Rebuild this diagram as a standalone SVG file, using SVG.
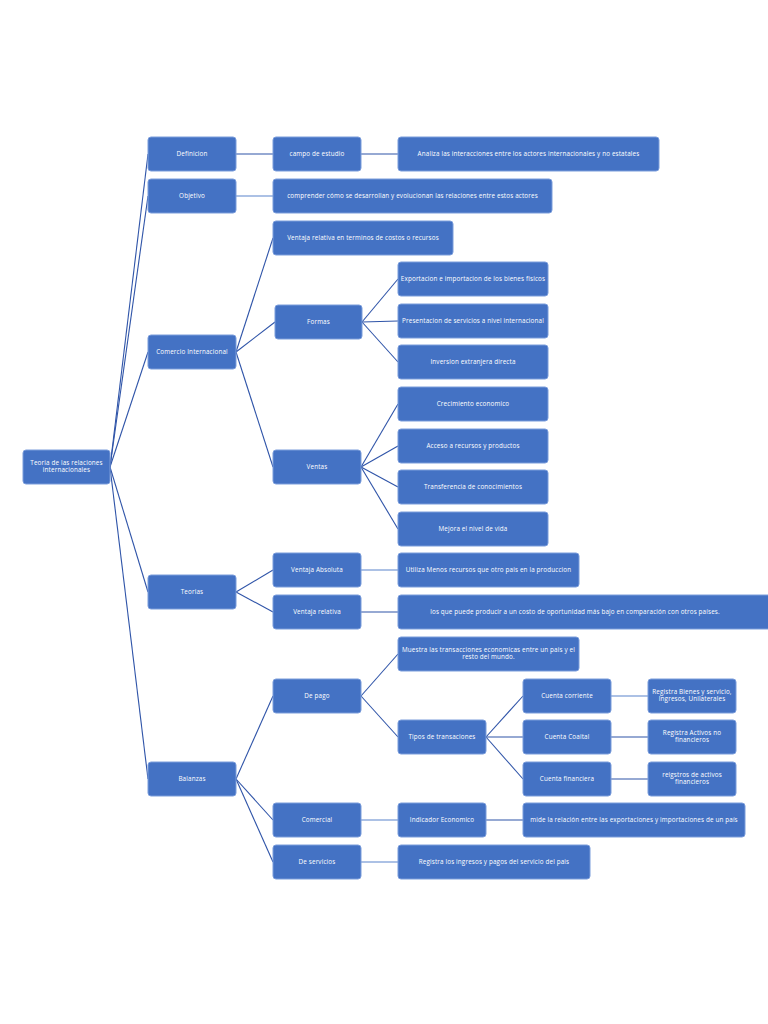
<svg xmlns="http://www.w3.org/2000/svg" width="768" height="1024" viewBox="0 0 768 1024">
<style>
.n rect{fill:#4472C4;stroke:#7B9DDB;stroke-width:1}
.n text{fill:#fff;font-family:"Open Sans","Liberation Sans",sans-serif;font-size:6.3px;letter-spacing:0.15px;text-anchor:middle;dominant-baseline:middle}
#c line{stroke:#2F54A8;stroke-width:1.1}
</style>
<rect width="768" height="1024" fill="#fff"/>
<g id="c">
<line x1="110" y1="467" x2="148" y2="154"/>
<line x1="110" y1="467" x2="148" y2="196"/>
<line x1="110" y1="467" x2="148" y2="352"/>
<line x1="110" y1="467" x2="148" y2="592"/>
<line x1="110" y1="467" x2="148" y2="779"/>
<line x1="236" y1="154" x2="273" y2="154"/>
<line x1="361" y1="154" x2="398" y2="154"/>
<line x1="236" y1="196" x2="273" y2="196" style="stroke:#5B84CC"/>
<line x1="236" y1="352" x2="273" y2="238"/>
<line x1="236" y1="352" x2="275" y2="322"/>
<line x1="236" y1="352" x2="273" y2="467"/>
<line x1="362" y1="322" x2="398" y2="279"/>
<line x1="362" y1="322" x2="398" y2="321"/>
<line x1="362" y1="322" x2="398" y2="362"/>
<line x1="361" y1="467" x2="398" y2="404"/>
<line x1="361" y1="467" x2="398" y2="446"/>
<line x1="361" y1="467" x2="398" y2="487"/>
<line x1="361" y1="467" x2="398" y2="529"/>
<line x1="236" y1="592" x2="273" y2="570"/>
<line x1="236" y1="592" x2="273" y2="612"/>
<line x1="361" y1="570" x2="398" y2="570" style="stroke:#5B84CC"/>
<line x1="361" y1="612" x2="398" y2="612"/>
<line x1="236" y1="779" x2="273" y2="696"/>
<line x1="236" y1="779" x2="273" y2="820"/>
<line x1="236" y1="779" x2="273" y2="862"/>
<line x1="361" y1="696" x2="398" y2="654"/>
<line x1="361" y1="696" x2="398" y2="737"/>
<line x1="486" y1="737" x2="523" y2="696"/>
<line x1="486" y1="737" x2="523" y2="737"/>
<line x1="486" y1="737" x2="523" y2="779"/>
<line x1="611" y1="696" x2="648" y2="696" style="stroke:#5B84CC"/>
<line x1="611" y1="737" x2="648" y2="737"/>
<line x1="611" y1="779" x2="648" y2="779"/>
<line x1="361" y1="820" x2="398" y2="820" style="stroke:#5B84CC"/>
<line x1="486" y1="820" x2="523" y2="820"/>
<line x1="361" y1="862" x2="398" y2="862" style="stroke:#5B84CC"/>
</g>
<g id="root" class="n"><rect x="23" y="450" width="87" height="34" rx="3"/><text x="66.5" y="463.5">Teoria de las relaciones</text><text x="66.5" y="470.5">internacionales</text></g>
<g id="definicion" class="n"><rect x="148" y="137" width="88" height="34" rx="3"/><text x="192" y="154">Definicion</text></g>
<g id="objetivo" class="n"><rect x="148" y="179" width="88" height="34" rx="3"/><text x="192" y="196">Objetivo</text></g>
<g id="comercio" class="n"><rect x="148" y="335" width="88" height="34" rx="3"/><text x="192" y="352">Comercio Internacional</text></g>
<g id="teorias" class="n"><rect x="148" y="575" width="88" height="34" rx="3"/><text x="192" y="592">Teorias</text></g>
<g id="balanzas" class="n"><rect x="148" y="762" width="88" height="34" rx="3"/><text x="192" y="779">Balanzas</text></g>
<g id="campo" class="n"><rect x="273" y="137" width="88" height="34" rx="3"/><text x="317" y="154">campo de estudio</text></g>
<g id="analiza" class="n"><rect x="398" y="137" width="261" height="34" rx="3"/><text x="528.5" y="154">Analiza las interacciones entre los actores internacionales y no estatales</text></g>
<g id="comprender" class="n"><rect x="273" y="179" width="279" height="34" rx="3"/><text x="412.5" y="196">comprender cómo se desarrollan y evolucionan las relaciones entre estos actores</text></g>
<g id="ventaja-terminos" class="n"><rect x="273" y="221" width="180" height="34" rx="3"/><text x="363" y="238">Ventaja relativa en terminos de costos o recursos</text></g>
<g id="formas" class="n"><rect x="275" y="305" width="87" height="34" rx="3"/><text x="318.5" y="322">Formas</text></g>
<g id="exportacion" class="n"><rect x="398" y="262" width="150" height="34" rx="3"/><text x="473" y="279">Exportacion e importacion de los bienes fisicos</text></g>
<g id="presentacion" class="n"><rect x="398" y="304" width="150" height="34" rx="3"/><text x="473" y="321">Presentacion de servicios a nivel internacional</text></g>
<g id="inversion" class="n"><rect x="398" y="345" width="150" height="34" rx="3"/><text x="473" y="362">Inversion extranjera directa</text></g>
<g id="ventas" class="n"><rect x="273" y="450" width="88" height="34" rx="3"/><text x="317" y="467">Ventas</text></g>
<g id="crecimiento" class="n"><rect x="398" y="387" width="150" height="34" rx="3"/><text x="473" y="404">Crecimiento economico</text></g>
<g id="acceso" class="n"><rect x="398" y="429" width="150" height="34" rx="3"/><text x="473" y="446">Acceso a recursos y productos</text></g>
<g id="transferencia" class="n"><rect x="398" y="470" width="150" height="34" rx="3"/><text x="473" y="487">Transferencia de conocimientos</text></g>
<g id="mejora" class="n"><rect x="398" y="512" width="150" height="34" rx="3"/><text x="473" y="529">Mejora el nivel de vida</text></g>
<g id="ventaja-absoluta" class="n"><rect x="273" y="553" width="88" height="34" rx="3"/><text x="317" y="570">Ventaja Absoluta</text></g>
<g id="ventaja-relativa" class="n"><rect x="273" y="595" width="88" height="34" rx="3"/><text x="317" y="612">Ventaja relativa</text></g>
<g id="utiliza" class="n"><rect x="398" y="553" width="181" height="34" rx="3"/><text x="488.5" y="570">Utiliza Menos recursos que otro pais en la produccion</text></g>
<g id="los-que" class="n"><rect x="398" y="595" width="380" height="34" rx="3"/><text x="575" y="612">los que puede producir a un costo de oportunidad más bajo en comparación con otros países.</text></g>
<g id="de-pago" class="n"><rect x="273" y="679" width="88" height="34" rx="3"/><text x="317" y="696">De pago</text></g>
<g id="muestra" class="n"><rect x="398" y="637" width="181" height="34" rx="3"/><text x="488.5" y="650">Muestra las transacciones economicas entre un pais y el</text><text x="488.5" y="657">resto del mundo.</text></g>
<g id="tipos" class="n"><rect x="398" y="720" width="88" height="34" rx="3"/><text x="442" y="737">Tipos de transaciones</text></g>
<g id="cuenta-corriente" class="n"><rect x="523" y="679" width="88" height="34" rx="3"/><text x="567" y="696">Cuenta corriente</text></g>
<g id="cuenta-coaital" class="n"><rect x="523" y="720" width="88" height="34" rx="3"/><text x="567" y="737">Cuenta Coaital</text></g>
<g id="cuenta-financiera" class="n"><rect x="523" y="762" width="88" height="34" rx="3"/><text x="567" y="779">Cuenta financiera</text></g>
<g id="registra-bienes" class="n"><rect x="648" y="679" width="88" height="34" rx="3"/><text x="692" y="692.5">Registra Bienes y servicio,</text><text x="692" y="699.5">Ingresos, Unilaterales</text></g>
<g id="registra-activos" class="n"><rect x="648" y="720" width="88" height="34" rx="3"/><text x="692" y="733.5">Registra Activos no</text><text x="692" y="740.5">financieros</text></g>
<g id="reigstros" class="n"><rect x="648" y="762" width="88" height="34" rx="3"/><text x="692" y="775.5">reigstros de activos</text><text x="692" y="782.5">financieros</text></g>
<g id="comercial" class="n"><rect x="273" y="803" width="88" height="34" rx="3"/><text x="317" y="820">Comercial</text></g>
<g id="indicador" class="n"><rect x="398" y="803" width="88" height="34" rx="3"/><text x="442" y="820">Indicador Economico</text></g>
<g id="mide" class="n"><rect x="523" y="803" width="222" height="34" rx="3"/><text x="634" y="820">mide la relación entre las exportaciones y  importaciones de un país</text></g>
<g id="de-servicios" class="n"><rect x="273" y="845" width="88" height="34" rx="3"/><text x="317" y="862">De servicios</text></g>
<g id="registra-ingresos" class="n"><rect x="398" y="845" width="192" height="34" rx="3"/><text x="494" y="862">Registra los ingresos y pagos del servicio del pais</text></g>
</svg>
